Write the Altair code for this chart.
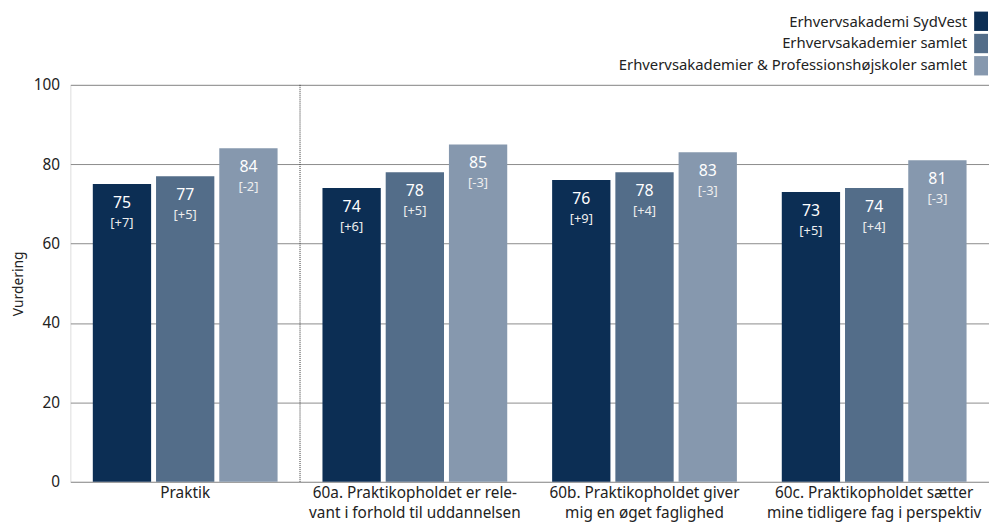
import altair as alt
import pandas as pd

categories = [
    "Praktik",
    "60a. Praktikopholdet er rele-\nvant i forhold til uddannelsen",
    "60b. Praktikopholdet giver\nmig en øget faglighed",
    "60c. Praktikopholdet sætter\nmine tidligere fag i perspektiv",
]
series = [
    "Erhvervsakademi SydVest",
    "Erhvervsakademier samlet",
    "Erhvervsakademier & Professionshøjskoler samlet",
]
values_sydvest = [75, 74, 76, 73]
values_eak = [77, 78, 78, 74]
values_all = [84, 85, 83, 81]
delta_sydvest = ["+7", "+6", "+9", "+5"]
delta_eak = ["+5", "+5", "+4", "+4"]
delta_all = ["-2", "-3", "-3", "-3"]
colors = ["#0c2e54", "#536d89", "#8698ae"]
y_ticks = [0, 20, 40, 60, 80, 100]

rows = []
for s, vals, ds in zip(series, [values_sydvest, values_eak, values_all],
                       [delta_sydvest, delta_eak, delta_all]):
    for c, v, d in zip(categories, vals, ds):
        rows.append({"kategori": c, "serie": s, "vurdering": v, "delta": f"[{d}]"})
df = pd.DataFrame(rows)
df_sep = pd.DataFrame({"kategori": [categories[1]]})
df_leg = pd.DataFrame({"serie": series})

FONT = "Noto Sans"
W, H = 928, 401

color_enc = alt.Color("serie:N", sort=series,
                      scale=alt.Scale(domain=series, range=colors), legend=None)

x_enc = alt.X(
    "kategori:N", sort=categories,
    scale=alt.Scale(paddingInner=0, paddingOuter=0),
    axis=alt.Axis(title=None, labelAngle=0, labelExpr="split(datum.label, '\\n')",
                  ticks=False, domain=False, labelFontSize=15.5, labelLineHeight=20,
                  labelPadding=4, labelColor="#222222", labelFont=FONT, labelLimit=400),
)
xo_enc = alt.XOffset("serie:N", sort=series,
                     scale=alt.Scale(paddingInner=0.078, paddingOuter=0.355))
y_enc = alt.Y(
    "vurdering:Q", scale=alt.Scale(domain=[0, 100]),
    axis=alt.Axis(values=y_ticks, title="Vurdering", grid=True, gridColor="#8c8c8c",
                  gridWidth=1, ticks=False, domain=False, labelPadding=11,
                  labelFontSize=15.5, labelColor="#222222", labelFont=FONT,
                  titleFont=FONT, titleFontSize=14, titleFontWeight="normal",
                  titleColor="#222222", titlePadding=8),
)

bars = alt.Chart(df).mark_bar().encode(x=x_enc, xOffset=xo_enc, y=y_enc, color=color_enc)

val_text = alt.Chart(df).mark_text(
    dy=19, baseline="middle", fontSize=16, color="white", font=FONT
).encode(x=x_enc, xOffset=xo_enc, y=y_enc, text="vurdering:Q")

delta_text = alt.Chart(df).mark_text(
    dy=39, baseline="middle", fontSize=13, color="#eeeeee", font=FONT
).encode(x=x_enc, xOffset=xo_enc, y=y_enc, text="delta:N")

sep = alt.Chart(df_sep).mark_rule(strokeDash=[1, 1], color="#333333", strokeWidth=1).encode(
    x=alt.X("kategori:N", sort=categories, bandPosition=0),
    y=alt.datum(100), y2=alt.datum(0),
)

main = alt.layer(bars, sep, val_text, delta_text)

leg_y = alt.Y("serie:N", sort=series, axis=None,
              scale=alt.Scale(domain=series, range=[-74, -9.5], paddingInner=0.13, paddingOuter=0))

leg_rect = alt.Chart(df_leg).mark_rect().encode(
    y=leg_y, x=alt.value(W - 15), x2=alt.value(W - 1), color=color_enc,
)
leg_text = alt.Chart(df_leg).mark_text(
    align="right", baseline="middle", fontSize=15, color="#222222", font=FONT
).encode(y=leg_y, x=alt.value(W - 22), text="serie:N")

chart = alt.layer(main, leg_rect, leg_text).resolve_scale(y="independent").properties(
    width=W, height=H,
    padding={"left": 3, "top": 1, "right": 0, "bottom": 0},
).configure_view(stroke=None).configure(font=FONT)

chart.save("out.html", embed_options={"renderer": "svg", "actions": False})
